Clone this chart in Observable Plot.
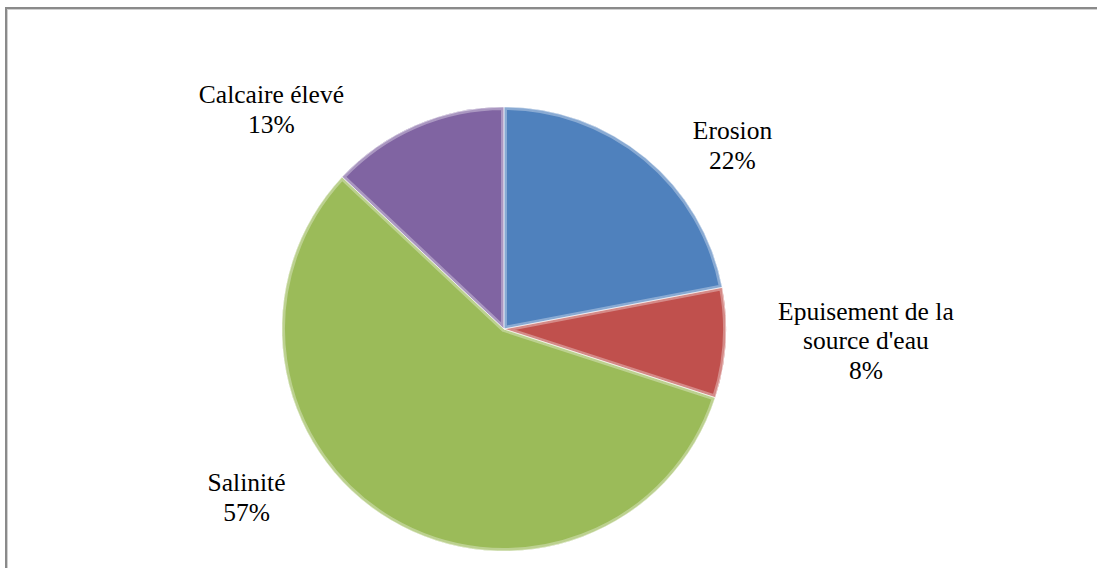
<!DOCTYPE html>
<html><head><meta charset="utf-8">
<script src="https://cdn.jsdelivr.net/npm/d3@7"></script>
<script src="https://cdn.jsdelivr.net/npm/@observablehq/plot@0.6"></script>
<style>
html,body{margin:0;padding:0;background:#fff;overflow:hidden;width:1097px;height:568px}
#frame{position:absolute;left:5px;top:7px;width:1200px;height:700px;border-left:2px solid #8a8a8a;border-top:2px solid #8a8a8a;box-shadow:inset 1px 1px 0 #d0d0d0}
#chart{position:absolute;left:0;top:0}
#chart svg, #chart svg text{font-family:"Liberation Serif","Tinos","Times New Roman","Times","DejaVu Serif",serif !important}
</style></head><body><div id="frame"></div><div id="chart"></div>
<script>
// Data
const categories = ["Erosion", "Epuisement de la source d'eau", "Salinité", "Calcaire élevé"];
const labelTexts = ["Erosion", "Epuisement de la\nsource d'eau", "Salinité", "Calcaire élevé"];
const values = [22, 8, 57, 13];
const colors = ["#4F81BD", "#C0504D", "#9BBB59", "#8064A2"];

// Layout (in radius units relative to the pie centre)
const W = 1097, H = 568, CX = 504, CY = 329, R = 222;
const labelPos = {
  "Erosion": [1.027, 0.834],
  "Epuisement de la source d'eau": [1.628, -0.047],
  "Salinité": [-1.162, -0.752],
  "Calcaire élevé": [-1.05, 0.995]
};

const slices = categories.map((c, i) => ({category: c, value: values[i], color: colors[i]}));
const labels = categories.map((c, i) => ({
  category: c, x: labelPos[c][0], y: labelPos[c][1],
  text: labelTexts[i] + "\n" + values[i] + "%"
}));

const xDomain = [-CX / R, (W - CX) / R];
const yDomain = [(CY - H) / R, CY / R];

function pieMark(index, scales) {
  const sx = scales && typeof scales.x === "function" ? scales.x : d3.scaleLinear(xDomain, [0, W]);
  const sy = scales && typeof scales.y === "function" ? scales.y : d3.scaleLinear(yDomain, [H, 0]);
  const cx = sx(0), cy = sy(0), r = sx(1) - sx(0);
  const arcs = d3.pie().sort(null).value(d => d.value)(slices);
  const arc = d3.arc().innerRadius(0).outerRadius(r);
  const g = d3.create("svg:g").attr("transform", `translate(${cx},${cy})`);
  const defs = g.append("defs");
  arcs.forEach((a, i) => {
    defs.append("clipPath").attr("id", "clip" + i).append("path").attr("d", arc(a));
  });
  g.selectAll("path.slice").data(arcs).join("path")
    .attr("class", "slice")
    .attr("d", arc)
    .attr("fill", d => d.data.color);
  // bevel-like inner highlight
  g.selectAll("path.bevel").data(arcs).join("path")
    .attr("class", "bevel")
    .attr("d", arc)
    .attr("fill", "none")
    .attr("clip-path", (d, i) => `url(#clip${i})`)
    .attr("stroke", d => d3.interpolateRgb(d.data.color, "#ffffff")(0.55))
    .attr("stroke-width", 6)
    .attr("stroke-opacity", 0.6)
    .attr("stroke-linejoin", "round");
  g.selectAll("path.edge").data(arcs).join("path")
    .attr("class", "edge")
    .attr("d", arc)
    .attr("fill", "none")
    .attr("stroke", "#ffffff")
    .attr("stroke-opacity", 0.5)
    .attr("stroke-width", 1);
  return g.node();
}

const chart = Plot.plot({
  width: W, height: H,
  margin: 0,
  x: {domain: xDomain, range: [0, W], axis: null},
  y: {domain: yDomain, range: [H, 0], axis: null},
  style: {background: "transparent"},
  marks: [
    pieMark,
    Plot.text(labels, {
      x: "x", y: "y", text: "text",
      fontSize: 25.5,
      lineHeight: 1.17, lineAnchor: "middle", textAnchor: "middle", fill: "#000"
    })
  ]
});
document.getElementById("chart").appendChild(chart);
</script>
</body></html>
